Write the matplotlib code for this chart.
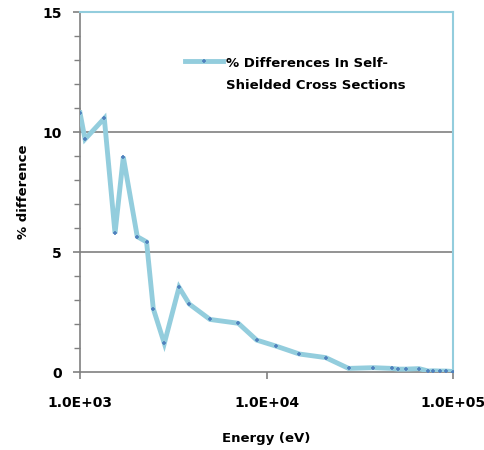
import matplotlib
matplotlib.use("Agg")
import matplotlib.pyplot as plt
from matplotlib.ticker import FixedLocator, MultipleLocator, NullLocator
from matplotlib.legend_handler import HandlerLine2D
from matplotlib.lines import Line2D
from matplotlib.transforms import Affine2D

energy = [1000, 1064, 1350, 1541, 1707, 2028, 2275, 2471, 2832, 3397, 3856,
          4977, 7063, 8856, 11240, 14990, 20770, 27560, 37380, 46900, 50900,
          55700, 65700, 73800, 78400, 85100, 91700, 100000]
pct_diff = [10.8, 9.7, 10.57, 5.78, 8.96, 5.64, 5.42, 2.64, 1.19, 3.53, 2.83,
            2.19, 2.03, 1.33, 1.08, 0.75, 0.60, 0.15, 0.18, 0.15, 0.12,
            0.12, 0.14, 0.04, 0.05, 0.04, 0.04, 0.02]
xticks = [1e3, 1e4, 1e5]
xticklabels = ["1.0E+03", "1.0E+04", "1.0E+05"]
yticks = [0, 5, 10, 15]
legend_label = "% Differences In Self-\nShielded Cross Sections"

plt.rcParams['font.family'] = ['DejaVu Sans Condensed', 'Liberation Sans Narrow', 'DejaVu Sans']
plt.rcParams['font.weight'] = 'bold'


class TopLineHandler(HandlerLine2D):
    def create_artists(self, legend, orig_handle, xdescent, ydescent, width,
                       height, fontsize, trans):
        shifted = Affine2D().translate(0, 10.0) + trans
        return super().create_artists(legend, orig_handle, xdescent, ydescent,
                                      width, height, fontsize, shifted)


fig = plt.figure(figsize=(4.85, 4.5), dpi=100)
ax = fig.add_axes([80/485, 78/450, 373/485, 360/450])

ax.plot(energy, pct_diff, color='#93CDDD', lw=3.5, marker='+', markersize=3,
        markeredgecolor='#4F81BD', markeredgewidth=1.2, label=legend_label,
        solid_joinstyle='miter', zorder=3)
ax.set_xscale('log')
ax.set_xlim(1e3, 1e5)
ax.set_ylim(0, 15)
ax.xaxis.set_major_locator(FixedLocator(xticks))
ax.xaxis.set_minor_locator(NullLocator())
ax.set_xticklabels(xticklabels)
ax.yaxis.set_major_locator(FixedLocator(yticks))
ax.yaxis.set_minor_locator(MultipleLocator(1))

for y in [5, 10]:
    ax.axhline(y, color='#808080', lw=1.2, zorder=1)

for s in ['left', 'bottom']:
    ax.spines[s].set_color('#808080')
    ax.spines[s].set_linewidth(1.2)
for s in ['top', 'right']:
    ax.spines[s].set_color('#93CDDD')
    ax.spines[s].set_linewidth(1.5)

ax.tick_params(axis='both', which='major', direction='out', length=5,
               color='#808080', width=1.2, labelsize=10, pad=8)
ax.tick_params(axis='y', which='minor', direction='out', length=4,
               color='#808080', width=1.0)
ax.tick_params(axis='x', pad=12)
for lab in ax.get_xticklabels() + ax.get_yticklabels():
    lab.set_fontweight('bold')

ax.set_xlabel("Energy (eV)", fontsize=9.5, fontweight='bold', labelpad=16)
ax.set_ylabel("% difference", fontsize=9.5, fontweight='bold', labelpad=9)

leg = ax.legend(loc='upper left', bbox_to_anchor=(0.25, 0.909), frameon=False,
                prop={'size': 9.5, 'weight': 'bold'}, handlelength=2.9,
                handletextpad=0.2, handler_map={Line2D: TopLineHandler()})
for t in leg.get_texts():
    t.set_linespacing(1.92)

fig.savefig("out.png", dpi=100)
